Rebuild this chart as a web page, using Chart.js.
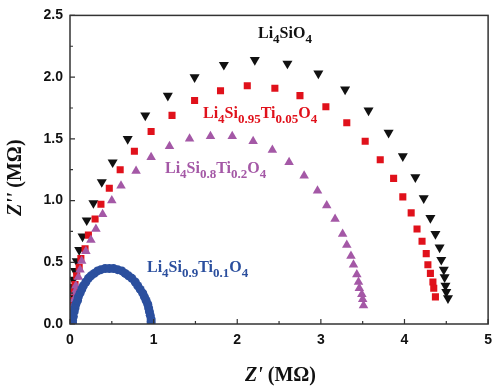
<!DOCTYPE html>
<html>
<head>
<meta charset="utf-8">
<script src="https://cdn.jsdelivr.net/npm/chart.js@4/dist/chart.umd.min.js"></script>
<style>
	html, body { margin: 0; padding: 0; background: #fff; }
	canvas { display: block; }
</style>
</head>
<body>
<canvas id="eis" width="500" height="387"></canvas>
<script>
// Nyquist plot data, Z' and Z'' in MOhm

const li4sio4_re = [0.01, 0.01, 0.01, 0.02, 0.02, 0.02, 0.02, 0.04, 0.06, 0.08, 0.11, 0.15, 0.20, 0.28, 0.38, 0.51, 0.69, 0.90, 1.17, 1.49, 1.84, 2.21, 2.60, 2.97, 3.29, 3.57, 3.81, 3.98, 4.13, 4.23, 4.31, 4.37, 4.42, 4.44, 4.47, 4.48, 4.49, 4.50, 4.52];
const li4sio4_im = [0.02, 0.05, 0.09, 0.14, 0.19, 0.25, 0.30, 0.36, 0.43, 0.51, 0.60, 0.71, 0.84, 0.98, 1.15, 1.31, 1.50, 1.69, 1.85, 2.00, 2.10, 2.14, 2.11, 2.03, 1.90, 1.73, 1.55, 1.36, 1.19, 1.02, 0.86, 0.73, 0.62, 0.52, 0.44, 0.38, 0.31, 0.26, 0.21];

const ti005_re = [0.01, 0.02, 0.02, 0.04, 0.05, 0.06, 0.08, 0.11, 0.13, 0.18, 0.22, 0.30, 0.37, 0.47, 0.60, 0.77, 0.97, 1.22, 1.49, 1.80, 2.12, 2.45, 2.75, 3.06, 3.31, 3.53, 3.71, 3.87, 3.98, 4.08, 4.15, 4.21, 4.26, 4.28, 4.31, 4.34, 4.35, 4.37];
const ti005_im = [0.03, 0.08, 0.14, 0.19, 0.26, 0.32, 0.39, 0.46, 0.53, 0.61, 0.72, 0.85, 0.97, 1.10, 1.25, 1.40, 1.56, 1.69, 1.81, 1.89, 1.93, 1.91, 1.85, 1.76, 1.63, 1.48, 1.33, 1.18, 1.03, 0.90, 0.77, 0.67, 0.57, 0.48, 0.41, 0.34, 0.29, 0.22];

const ti02_re = [0.01, 0.02, 0.04, 0.05, 0.06, 0.07, 0.10, 0.12, 0.14, 0.19, 0.25, 0.31, 0.39, 0.50, 0.61, 0.79, 0.97, 1.19, 1.43, 1.68, 1.94, 2.19, 2.42, 2.62, 2.80, 2.96, 3.07, 3.17, 3.26, 3.31, 3.36, 3.39, 3.43, 3.45, 3.46, 3.49, 3.50, 3.51];
const ti02_im = [0.05, 0.10, 0.15, 0.20, 0.26, 0.31, 0.38, 0.44, 0.51, 0.59, 0.68, 0.77, 0.89, 1.00, 1.12, 1.24, 1.35, 1.44, 1.50, 1.52, 1.52, 1.48, 1.41, 1.31, 1.20, 1.08, 0.96, 0.85, 0.73, 0.64, 0.55, 0.48, 0.40, 0.34, 0.29, 0.24, 0.20, 0.15];

const ti01_re = [0.03, 0.03, 0.04, 0.05, 0.06, 0.07, 0.09, 0.10, 0.12, 0.14, 0.16, 0.19, 0.22, 0.25, 0.29, 0.33, 0.37, 0.42, 0.47, 0.52, 0.57, 0.62, 0.66, 0.70, 0.74, 0.78, 0.81, 0.84, 0.87, 0.89, 0.91, 0.93, 0.94, 0.95, 0.96, 0.97, 0.97, 0.97];
const ti01_im = [0.01, 0.03, 0.06, 0.10, 0.13, 0.16, 0.19, 0.22, 0.25, 0.28, 0.31, 0.34, 0.37, 0.39, 0.41, 0.43, 0.44, 0.45, 0.45, 0.45, 0.44, 0.43, 0.41, 0.39, 0.37, 0.34, 0.31, 0.28, 0.25, 0.22, 0.19, 0.16, 0.13, 0.10, 0.07, 0.04, 0.02, 0.00];

const x_ticks = [0, 1, 2, 3, 4, 5];
const y_ticks = [0.0, 0.5, 1.0, 1.5, 2.0, 2.5];

// series labels: [text, subscript?] pieces
const lbl_li4sio4	= [['Li'], ['4', 1], ['SiO'], ['4', 1]];
const lbl_ti005		= [['Li'], ['4', 1], ['Si'], ['0.95', 1], ['Ti'], ['0.05', 1], ['O'], ['4', 1]];
const lbl_ti02		= [['Li'], ['4', 1], ['Si'], ['0.8', 1], ['Ti'], ['0.2', 1], ['O'], ['4', 1]];
const lbl_ti01		= [['Li'], ['4', 1], ['Si'], ['0.9', 1], ['Ti'], ['0.1', 1], ['O'], ['4', 1]];

const C_BLACK	= '#111111';
const C_RED		= '#e0111b';
const C_PURPLE	= '#a458a6';
const C_BLUE	= '#2b4f9e';

function toPoints(re, im) {
	let pts = [];
	for (let i = 0; i < re.length; i++) {
		pts.push({ x: re[i], y: im[i] });
	}
	return pts;
}

function drawFormula(ctx, parts, x, y, color) {
	ctx.save();
	ctx.fillStyle = color;
	ctx.textBaseline = 'alphabetic';
	ctx.textAlign = 'left';
	for (let i = 0; i < parts.length; i++) {
		let sub = parts[i][1];
		ctx.font = sub ? 'bold 13px "Liberation Serif"' : 'bold 16px "Liberation Serif"';
		ctx.fillText(parts[i][0], x, sub ? y + 5 : y);
		x += ctx.measureText(parts[i][0]).width;
	}
	ctx.restore();
}

// frame, inward ticks, axis titles and curve labels
const decorPlugin = {
	id: 'decor',
	afterDraw(chart) {
		const ctx = chart.ctx;
		const a = chart.chartArea;
		const xs = chart.scales.x;
		const ys = chart.scales.y;

		ctx.save();
		ctx.strokeStyle = '#333';
		ctx.lineWidth = 1.5;
		ctx.strokeRect(a.left, a.top, a.right - a.left, a.bottom - a.top);

		ctx.lineWidth = 1.2;
		ctx.beginPath();
		for (let v = 0; v <= 5.0001; v += 0.5) {
			let px = xs.getPixelForValue(v);
			let len = (Math.abs(v - Math.round(v)) < 0.01) ? 5 : 3;
			ctx.moveTo(px, a.bottom);
			ctx.lineTo(px, a.bottom - len);
		}
		for (let v = 0; v <= 2.5001; v += 0.25) {
			let py = ys.getPixelForValue(v);
			let len = (Math.abs(v * 2 - Math.round(v * 2)) < 0.01) ? 5 : 3;
			ctx.moveTo(a.left, py);
			ctx.lineTo(a.left + len, py);
		}
		ctx.stroke();

		// x title
		ctx.fillStyle = '#111';
		ctx.textBaseline = 'alphabetic';
		ctx.textAlign = 'left';
		let tx = 245;
		ctx.font = 'italic bold 20px "Liberation Serif"';
		ctx.fillText("Z'", tx, 381);
		tx += ctx.measureText("Z'").width;
		ctx.font = 'bold 20px "Liberation Serif"';
		ctx.fillText(' (M\u03A9)', tx, 381);

		// y title
		ctx.translate(21, 216);
		ctx.rotate(-Math.PI / 2);
		ctx.font = 'italic bold 20px "Liberation Serif"';
		ctx.fillText("Z''", 0, 0);
		let w = ctx.measureText("Z''").width;
		ctx.font = 'bold 20px "Liberation Serif"';
		ctx.fillText(' (M\u03A9)', w, 0);
		ctx.restore();

		drawFormula(ctx, lbl_li4sio4, 258, 38, C_BLACK);
		drawFormula(ctx, lbl_ti005, 203, 118, C_RED);
		drawFormula(ctx, lbl_ti02, 165, 173, C_PURPLE);
		drawFormula(ctx, lbl_ti01, 147, 272, C_BLUE);
	}
};

const tickFont = { family: '"Liberation Sans", Arial, sans-serif', size: 14, weight: 'bold' };

new Chart(document.getElementById('eis'), {
	type: 'scatter',
	data: {
		datasets: [
			{
				label: 'Li4Si0.9Ti0.1O4',
				data: toPoints(ti01_re, ti01_im),
				pointStyle: 'circle',
				pointRadius: 4.5,
				backgroundColor: C_BLUE,
				borderColor: C_BLUE,
				borderWidth: 0,
			},
			{
				label: 'Li4Si0.8Ti0.2O4',
				data: toPoints(ti02_re, ti02_im),
				pointStyle: 'triangle',
				pointRadius: 5.5,
				backgroundColor: C_PURPLE,
				borderColor: C_PURPLE,
				borderWidth: 0,
			},
			{
				label: 'Li4Si0.95Ti0.05O4',
				data: toPoints(ti005_re, ti005_im),
				pointStyle: 'rect',
				pointRadius: 5,
				backgroundColor: C_RED,
				borderColor: C_RED,
				borderWidth: 0,
			},
			{
				label: 'Li4SiO4',
				data: toPoints(li4sio4_re, li4sio4_im),
				pointStyle: 'triangle',
				pointRotation: 180,
				pointRadius: 5.8,
				backgroundColor: C_BLACK,
				borderColor: C_BLACK,
				borderWidth: 0,
			},
		]
	},
	options: {
		responsive: false,
		animation: false,
		devicePixelRatio: 1,
		layout: { padding: { top: 14, right: 7, left: 0, bottom: 0 } },
		plugins: {
			legend: { display: false },
			tooltip: { enabled: false },
		},
		scales: {
			x: {
				type: 'linear',
				min: 0,
				max: 5,
				afterFit: (s) => { s.height = 63; },
				afterBuildTicks: (s) => { s.ticks = x_ticks.map(v => ({ value: v })); },
				grid: { display: false, drawTicks: false },
				border: { display: false },
				ticks: {
					font: tickFont,
					color: '#111',
					padding: 8,
					callback: (v) => String(v),
				},
			},
			y: {
				type: 'linear',
				min: 0,
				max: 2.5,
				afterFit: (s) => { s.width = 70; },
				afterBuildTicks: (s) => { s.ticks = y_ticks.map(v => ({ value: v })); },
				grid: { display: false, drawTicks: false },
				border: { display: false },
				ticks: {
					font: tickFont,
					color: '#111',
					padding: 7,
					callback: (v) => Number(v).toFixed(1),
				},
			},
		}
	},
	plugins: [decorPlugin]
});
</script>
</body>
</html>
